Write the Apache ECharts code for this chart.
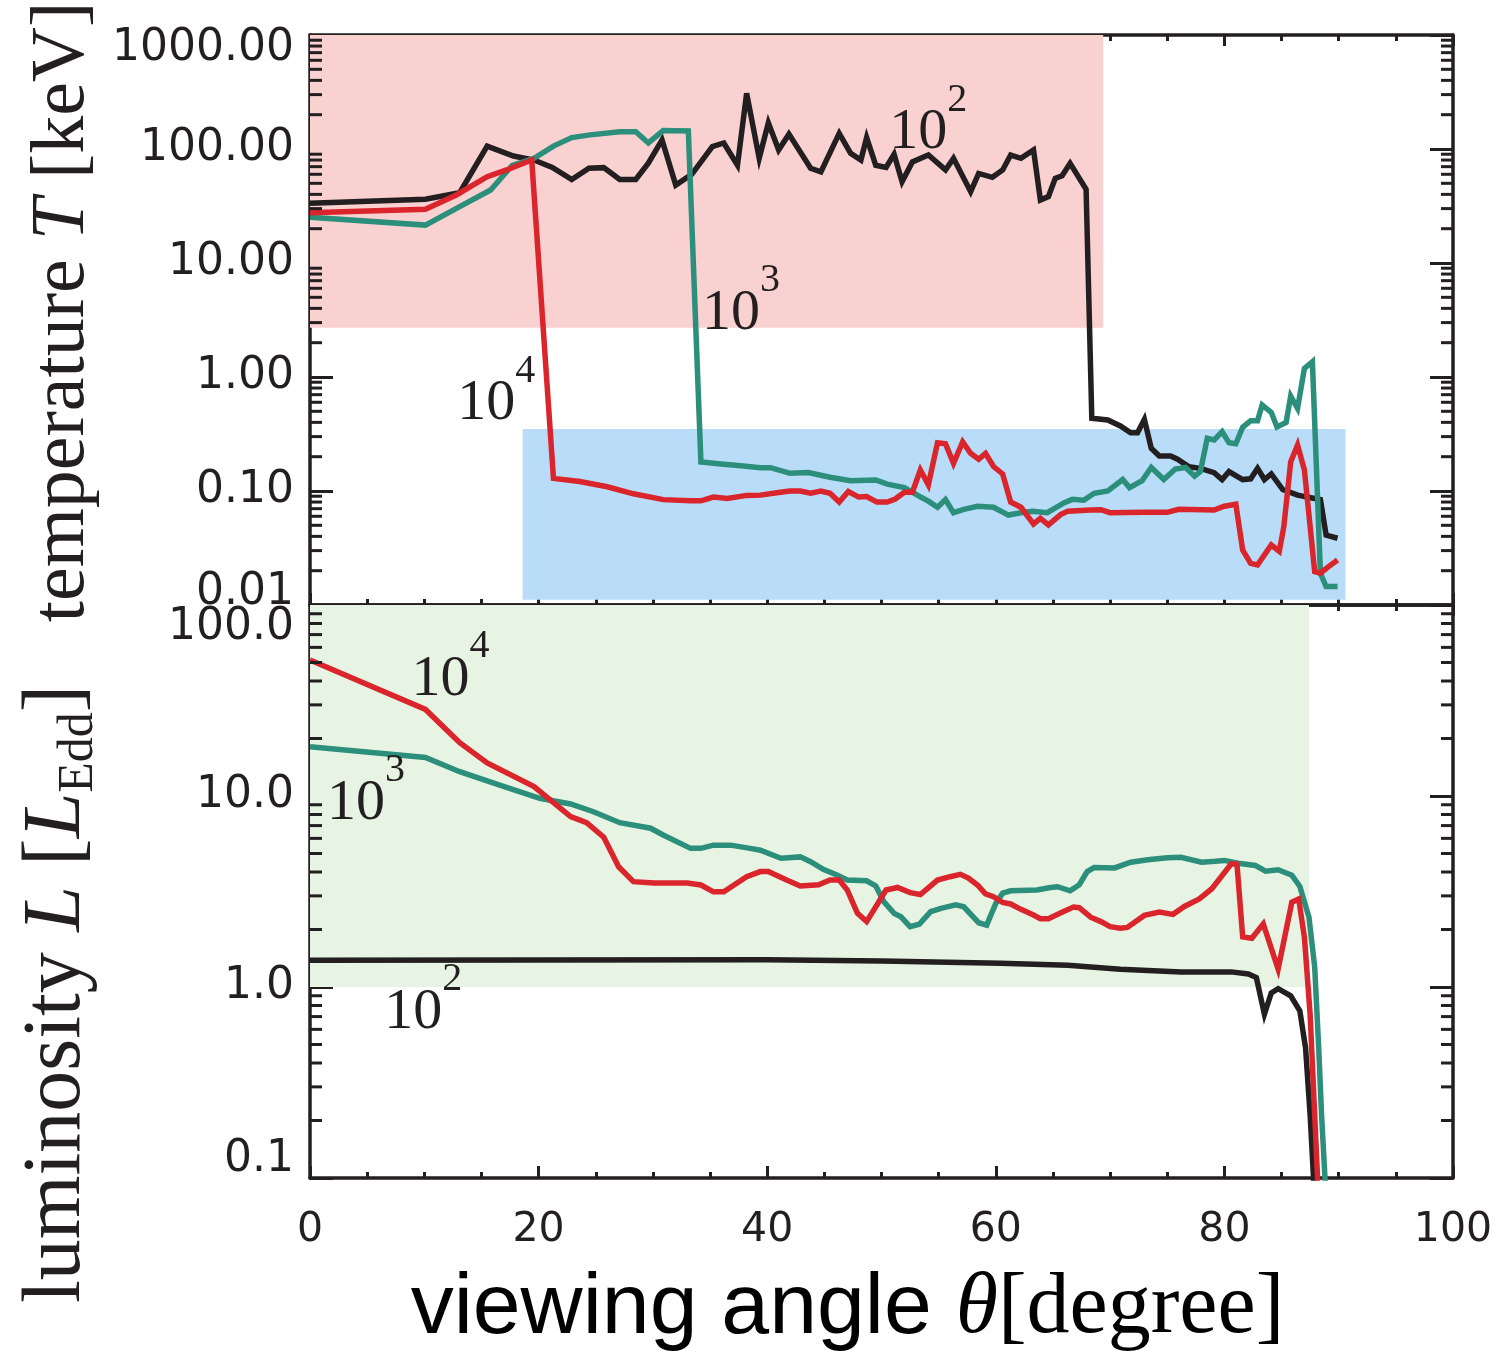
<!DOCTYPE html>
<html><head><meta charset="utf-8">
<script src="https://cdn.jsdelivr.net/npm/echarts@6/dist/echarts.min.js"></script>
<style>html,body{margin:0;padding:0;background:#fff}#c{width:1498px;height:1355px}</style>
</head><body><div id="c"></div>
<script>
// ---- data (theta [deg], value) ----
const xTicks = [0, 20, 40, 60, 80, 100];
const tempTicks = [0.01, 0.1, 1, 10, 100, 1000];
const lumTicks = [0.1, 1, 10, 100];

const tempBlack = [[0,33.4],[10.1,36.2],[13.1,41.4],[15.5,106],[17.8,86.8],[19.6,80],[21.2,69],[22.9,54],[24.4,67.8],[25.7,68.6],[27.1,54],[28.5,54],[29.6,75],[30.8,120],[32.0,48.3],[33.4,60],[35.2,105],[36.2,113],[37.4,72],[38.2,308],[39.3,83],[40.1,170],[41.0,98],[41.9,135],[43.8,67.7],[44.7,63],[46.3,137],[47.3,91.6],[48.2,80],[48.7,126],[49.5,72],[50.4,69],[51.1,90],[51.8,51.6],[52.7,77],[54.1,88.5],[55.6,65.5],[56.3,82.8],[57.8,42.2],[58.5,61],[59.7,56.4],[60.6,65.5],[61.3,88.5],[62.2,82.8],[63.3,98],[63.9,35.7],[64.6,38.2],[65.2,55.3],[65.8,58.3],[66.5,74.9],[67.9,44.3],[68.4,0.434],[69.8,0.42],[70.9,0.372],[71.8,0.324],[72.4,0.324],[73.0,0.425],[73.6,0.237],[74.3,0.203],[75.3,0.203],[75.9,0.19],[76.9,0.163],[77.9,0.158],[79.1,0.145],[79.8,0.126],[80.4,0.148],[81.6,0.126],[82.3,0.128],[82.9,0.158],[83.5,0.126],[84.1,0.141],[85.1,0.103],[86.4,0.092],[87.9,0.086],[88.4,0.084],[88.9,0.041],[89.9,0.0385]];

const tempTeal = [[0,25.2],[10.1,21.5],[13.1,31.2],[15.8,43.7],[17.7,72],[19.6,82.8],[21.3,106],[22.9,126],[24.5,133],[27.1,141.7],[28.5,141.7],[29.6,113],[30.9,145],[33.1,144],[34.2,0.18],[36.2,0.172],[37.9,0.166],[39.4,0.16],[40.3,0.16],[42.0,0.143],[43.6,0.145],[45.5,0.132],[47.3,0.123],[49.5,0.125],[50.5,0.115],[52.0,0.107],[53.4,0.089],[54.1,0.0815],[54.9,0.072],[55.6,0.084],[56.3,0.0645],[57.2,0.069],[58.4,0.0735],[59.8,0.072],[61.1,0.0615],[62.2,0.0645],[63.2,0.0665],[64.5,0.0645],[66.0,0.079],[66.7,0.0845],[67.7,0.083],[68.6,0.0955],[69.8,0.1],[71.1,0.126],[71.7,0.107],[72.8,0.123],[73.6,0.161],[74.7,0.126],[75.7,0.156],[76.6,0.161],[77.4,0.135],[77.9,0.148],[78.5,0.29],[79.1,0.28],[79.8,0.331],[80.4,0.265],[81.0,0.26],[81.6,0.362],[82.3,0.414],[82.9,0.414],[83.3,0.568],[84.1,0.49],[84.6,0.365],[85.4,0.4],[85.8,0.68],[86.4,0.53],[87.0,1.19],[87.7,1.36],[88.4,0.019],[88.9,0.0145],[89.9,0.0145]];

const tempRed = [[0,27.6],[10.1,29.6],[12.8,39.5],[15.5,57.1],[17.2,65.5],[19.4,80],[21.3,0.129],[23.6,0.121],[26.0,0.109],[28.3,0.0945],[30.9,0.084],[33.3,0.082],[34.2,0.082],[35.3,0.0885],[36.5,0.086],[38.2,0.0915],[39.4,0.092],[41.0,0.097],[42.0,0.1],[42.9,0.1],[43.8,0.0955],[44.7,0.1],[45.5,0.0955],[46.3,0.08],[47.1,0.099],[48.0,0.0885],[48.7,0.0895],[49.6,0.08],[50.5,0.08],[51.2,0.085],[52.0,0.0975],[52.7,0.0975],[53.4,0.153],[54.1,0.113],[54.9,0.265],[55.6,0.26],[56.3,0.175],[57.1,0.27],[57.8,0.214],[58.5,0.19],[59.1,0.214],[59.8,0.164],[60.6,0.141],[61.3,0.08],[62.2,0.072],[63.3,0.0514],[63.9,0.0575],[64.6,0.0505],[65.7,0.0625],[66.3,0.0665],[68.3,0.068],[69.2,0.0685],[70.0,0.0645],[73.0,0.065],[75.0,0.065],[76.0,0.069],[79.1,0.068],[80.0,0.0735],[81.0,0.0765],[81.6,0.0303],[82.3,0.0232],[82.9,0.0225],[84.1,0.0336],[84.8,0.0296],[85.2,0.0486],[85.8,0.18],[86.4,0.253],[87.0,0.153],[87.9,0.0196],[88.4,0.019],[89.0,0.0213],[89.9,0.0248]];

const lumBlack = [[0,1.38],[20,1.385],[40,1.39],[50,1.37],[60.4,1.33],[66.3,1.30],[70.9,1.24],[76.2,1.2],[80.6,1.2],[82.1,1.17],[82.8,1.12],[83.5,0.72],[84.1,0.93],[84.7,0.98],[85.8,0.90],[86.6,0.75],[87.1,0.48],[87.5,0.214],[87.8,0.1],[88.0,0.06]];

const lumTeal = [[0,18.1],[10.1,15.9],[13.1,13.4],[16.6,11.4],[20.1,9.73],[22.8,9.08],[24.8,8.27],[27.1,7.25],[29.8,6.78],[30.9,6.25],[33.3,5.32],[34.2,5.32],[35.3,5.53],[36.8,5.53],[38.5,5.32],[39.4,5.2],[41.2,4.72],[42.9,4.8],[43.8,4.53],[44.9,4.13],[46.1,3.86],[47.0,3.63],[48.7,3.6],[49.5,3.38],[50.2,2.8],[51.1,2.43],[51.7,2.33],[52.5,2.07],[53.3,2.13],[54.3,2.48],[55.2,2.58],[56.5,2.69],[57.2,2.63],[58.5,2.17],[59.2,2.11],[60.0,2.74],[60.6,3.1],[61.3,3.19],[63.6,3.22],[64.8,3.32],[65.4,3.35],[66.5,3.19],[67.3,3.43],[68.0,4.02],[68.6,4.22],[70.4,4.2],[71.8,4.5],[73.3,4.64],[75.0,4.75],[76.2,4.78],[78.0,4.5],[79.2,4.55],[80.0,4.6],[81.2,4.45],[82.7,4.33],[83.6,4.04],[84.7,4.11],[85.9,3.85],[86.6,3.36],[87.4,2.32],[87.9,1.27],[88.25,0.48],[88.5,0.214],[88.8,0.1],[88.9,0.08]];

const lumRed = [[0,51.5],[10.1,28.4],[13.1,19.0],[15.5,14.9],[19.6,11.2],[22.8,7.8],[24.2,7.25],[25.7,6.08],[27.0,4.26],[28.3,3.56],[30.1,3.5],[33.0,3.5],[34.2,3.42],[35.3,3.15],[36.2,3.15],[38.2,3.78],[39.4,4.02],[40.1,4.02],[41.7,3.63],[42.9,3.38],[44.5,3.43],[45.5,3.63],[46.3,3.63],[47.0,3.22],[47.9,2.43],[48.7,2.2],[50.4,3.22],[51.4,3.32],[52.5,3.12],[53.4,3.05],[54.9,3.63],[56.0,3.78],[56.9,3.89],[57.6,3.72],[58.4,3.42],[59.1,3.07],[59.8,2.97],[60.6,2.77],[61.3,2.72],[62.2,2.55],[63.3,2.38],[63.9,2.28],[64.6,2.28],[65.7,2.45],[66.8,2.62],[67.3,2.6],[68.3,2.32],[69.2,2.2],[70.0,2.07],[70.9,2.03],[71.5,2.05],[73.0,2.37],[74.3,2.47],[75.5,2.4],[76.5,2.64],[77.8,2.89],[78.9,3.27],[80.6,4.42],[81.1,4.4],[81.6,1.83],[82.4,1.8],[83.4,2.14],[84.7,1.24],[85.9,2.78],[86.5,2.89],[87.0,1.82],[87.5,0.72],[87.9,0.214],[88.15,0.1],[88.3,0.07]];

// ---- styling ----
const AX = '#231f20';
const C_BLACK = '#231f20', C_TEAL = '#2b8f7b', C_RED = '#d9252b';
const SERIF = '"Liberation Serif", "DejaVu Serif", serif';
const SANS = '"DejaVu Sans", sans-serif';
const HELV = '"Liberation Sans", Arial, sans-serif';
const LW = 5.5;

function logMinor(lo, hi) {
  const out = [];
  for (let k = lo; k < hi; k++) for (let m = 2; m <= 9; m++) out.push(m * Math.pow(10, k));
  return out;
}

function xAxisCfg(gi, pos, showLabel, tickLen, minorLen, extra) {
  return Object.assign({
    type: 'value', gridIndex: gi, position: pos, min: 0, max: 100, interval: 20,
    axisLine: { show: true, onZero: false, lineStyle: { color: AX, width: 3.5 } },
    axisTick: { show: true, inside: true, length: tickLen, lineStyle: { color: AX, width: 3 } },
    minorTick: { show: true, splitNumber: 4, length: minorLen, lineStyle: { color: AX, width: 3 } },
    splitLine: { show: false }, minorSplitLine: { show: false },
    axisLabel: { show: showLabel, fontFamily: SANS, fontSize: 41, color: AX, margin: 32,
      formatter: v => String(v) }
  }, extra || {});
}

function yLabelRich(lhTop, lhBottom) {
  const base = { fontFamily: SANS, fontSize: 44, color: AX };
  return {
    top: Object.assign({ lineHeight: lhTop }, base),
    bot: Object.assign({ lineHeight: lhBottom }, base),
    mid: Object.assign({ lineHeight: 50 }, base)
  };
}

function yAxisCfg(gi, pos, min, max, showLabel, digits, lhTop, lhBottom, extra) {
  return Object.assign({
    type: 'log', logBase: 10, gridIndex: gi, position: pos, min: min, max: max,
    splitNumber: Math.round(Math.log10(max / min)),
    axisLine: { show: true, onZero: false, lineStyle: { color: AX, width: 3.5 } },
    axisTick: { show: true, inside: true, length: 23, lineStyle: { color: AX, width: 3 } },
    minorTick: { show: false },
    splitLine: { show: false },
    axisLabel: { show: showLabel, fontFamily: SANS, fontSize: 44, color: AX, margin: 16,
      showMinLabel: true, showMaxLabel: true,
      verticalAlignMinLabel: 'bottom', verticalAlignMaxLabel: 'top',
      rich: yLabelRich(lhTop, lhBottom),
      formatter: v => {
        const s = Number(v).toFixed(digits);
        const lv = Math.log10(v);
        if (Math.abs(lv - Math.log10(max)) < 1e-6) return '{top|' + s + '}';
        if (Math.abs(lv - Math.log10(min)) < 1e-6) return '{bot|' + s + '}';
        return '{mid|' + s + '}';
      } }
  }, extra || {});
}

function minorTickSeries(xi, yi, values) {
  return {
    type: 'custom', xAxisIndex: xi, yAxisIndex: yi, silent: true, clip: false, z: 10,
    encode: { x: 0, y: 1 },
    data: values.map(v => [0, v]),
    renderItem: (params, api) => {
      const v = api.value(1);
      const l = api.coord([0, v]);
      const r = api.coord([100, v]);
      const st = { stroke: AX, lineWidth: 3 };
      return { type: 'group', children: [
        { type: 'line', shape: { x1: l[0], y1: l[1], x2: l[0] + 12, y2: l[1] }, style: st },
        { type: 'line', shape: { x1: r[0], y1: r[1], x2: r[0] - 12, y2: r[1] }, style: st }
      ] };
    }
  };
}

function lineSeries(xi, yi, data, color, z, extra) {
  return Object.assign({
    type: 'line', xAxisIndex: xi, yAxisIndex: yi, data: data, symbol: 'none', z: z,
    clip: true, animation: false,
    lineStyle: { color: color, width: LW, join: 'miter', miterLimit: 6 }
  }, extra || {});
}

function annot(coord, exp) {
  return {
    coord: coord, symbol: 'circle', symbolSize: 1, itemStyle: { color: 'rgba(0,0,0,0)' },
    label: {
      show: true, position: 'inside', formatter: '{n|10}{s|' + exp + '}',
      rich: {
        n: { fontFamily: SERIF, fontSize: 58, color: AX, lineHeight: 82, verticalAlign: 'bottom' },
        s: { fontFamily: SERIF, fontSize: 40, color: AX, lineHeight: 38, verticalAlign: 'top' }
      }
    }
  };
}

const chart = echarts.init(document.getElementById('c'), null, { renderer: 'canvas' });

const option = {
  animation: false,
  backgroundColor: '#ffffff',
  grid: [
    { left: 310, top: 35, width: 1143, height: 570, containLabel: false, outerBoundsMode: 'none' },
    { left: 310, top: 605, width: 1143, height: 573, containLabel: false, outerBoundsMode: 'none' }
  ],
  xAxis: [
    xAxisCfg(0, 'bottom', false, 12, 6),
    xAxisCfg(0, 'top', false, 11, 6),
    xAxisCfg(1, 'bottom', true, 12, 6, {
      name: '{s|viewing angle }{i|θ}{b|[degree]}', nameLocation: 'middle', nameGap: 88,
      nameTextStyle: { padding: [0, 68, 0, 0], rich: {
        s: { fontFamily: HELV, fontSize: 86, color: '#000' },
        i: { fontFamily: SERIF, fontStyle: 'italic', fontSize: 86, color: '#000' },
        b: { fontFamily: SERIF, fontSize: 86, color: '#000' }
      } }
    }),
    xAxisCfg(1, 'top', false, 11, 6)
  ],
  yAxis: [
    yAxisCfg(0, 'left', 0.01, 1000, true, 2, 28, 24, {
      name: '{r|temperature }{i|T}{r| [keV]}', nameLocation: 'middle', nameRotate: 90, nameGap: 208,
      nameTextStyle: { padding: [0, 0, 0, 16], rich: {
        r: { fontFamily: SERIF, fontSize: 76, color: AX },
        i: { fontFamily: SERIF, fontStyle: 'italic', fontSize: 76, color: AX }
      } }
    }),
    yAxisCfg(0, 'right', 0.01, 1000, false, 2, 28, 24),
    yAxisCfg(1, 'left', 0.1, 100, true, 1, 46, 36, {
      name: '{r|luminosity }{i|L}{r| [}{i|L}{b|Edd}{r|]}', nameLocation: 'middle', nameRotate: 90, nameGap: 206,
      nameTextStyle: { padding: [0, 205, 0, 0], rich: {
        r: { fontFamily: SERIF, fontSize: 82, color: AX, lineHeight: 94 },
        i: { fontFamily: SERIF, fontStyle: 'italic', fontSize: 82, color: AX, lineHeight: 94 },
        b: { fontFamily: SERIF, fontSize: 50, color: AX, lineHeight: 58, verticalAlign: 'bottom' }
      } }
    }),
    yAxisCfg(1, 'right', 0.1, 100, false, 1, 46, 36)
  ],
  series: [
    lineSeries(0, 0, tempBlack, C_BLACK, 3, {
      markArea: { silent: true, data: [
        [{ coord: [0, 2.7], itemStyle: { color: '#f9d1d1' } }, { coord: [69.4, 1000] }],
        [{ coord: [18.6, 0.0111], itemStyle: { color: '#b9dcf9' } }, { coord: [90.6, 0.35] }]
      ] },
      markPoint: { silent: true, data: [annot([54.1, 176], 2), annot([37.7, 4.55], 3), annot([16.3, 0.738], 4)] }
    }),
    lineSeries(0, 0, tempTeal, C_TEAL, 4),
    lineSeries(0, 0, tempRed, C_RED, 5),
    lineSeries(2, 2, lumBlack, C_BLACK, 3, {
      markArea: { silent: true, data: [
        [{ coord: [0, 1.0], itemStyle: { color: '#e8f4e3' } }, { coord: [87.4, 100] }]
      ] },
      markPoint: { silent: true, data: [annot([12.3, 46.8], 4), annot([4.9, 10.5], 3), annot([9.9, 0.845], 2)] }
    }),
    lineSeries(2, 2, lumTeal, C_TEAL, 4),
    lineSeries(2, 2, lumRed, C_RED, 5),
    minorTickSeries(0, 0, logMinor(-2, 3)),
    minorTickSeries(2, 2, logMinor(-1, 2))
  ]
};
chart.setOption(option);
</script>
</body></html>
